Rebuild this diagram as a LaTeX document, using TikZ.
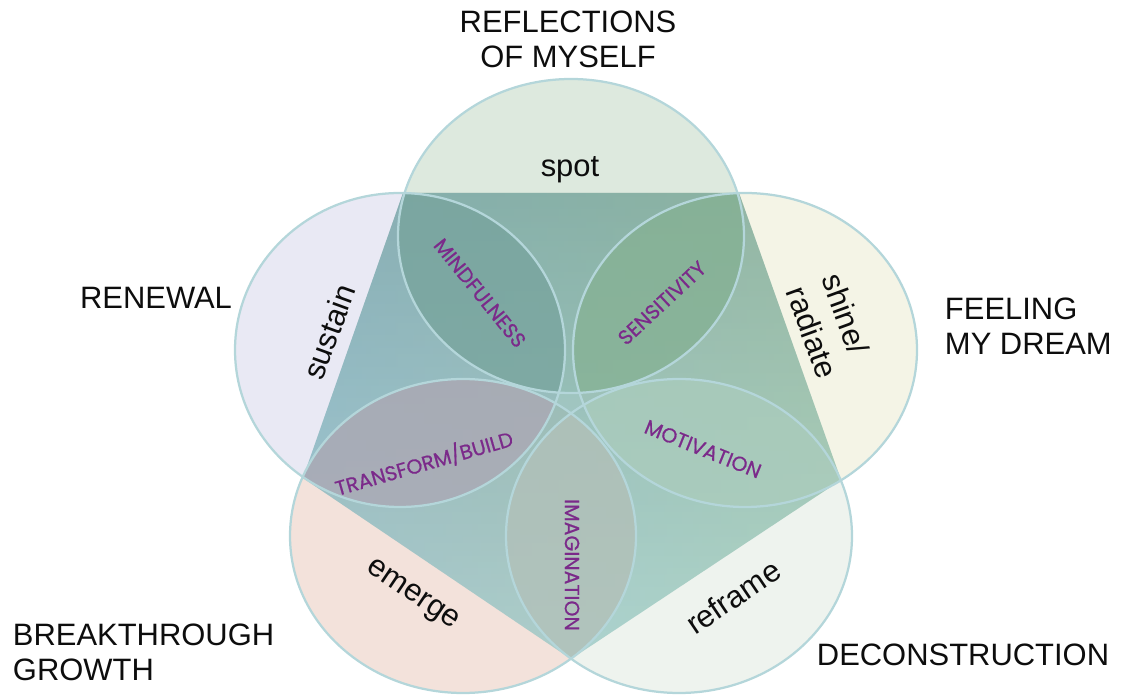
\documentclass[tikz,border=0pt]{standalone}
\usepackage{fontspec}
\setmainfont{Liberation Sans}
\newfontfamily\lensfont[FakeBold=0.6]{Poppins}
\usepackage{xcolor}
\definecolor{topfill}{HTML}{DDE9DE}
\definecolor{leftfill}{HTML}{E9E9F4}
\definecolor{rightfill}{HTML}{F4F4E6}
\definecolor{blfill}{HTML}{F3E2DB}
\definecolor{brfill}{HTML}{EEF3EE}
\definecolor{ringline}{HTML}{B4D6DA}
\definecolor{pentop}{HTML}{2F7A6F}
\definecolor{penmid}{HTML}{6CA5A4}
\definecolor{penbottom}{HTML}{79C4C3}
\definecolor{tintleft}{HTML}{A8C0E0}
\definecolor{tintright}{HTML}{C8D4A8}
\definecolor{lensTL}{HTML}{76A39B}
\definecolor{lensTR}{HTML}{83B092}
\definecolor{lensL}{HTML}{ACA7B4}
\definecolor{lensB}{HTML}{B3BFB7}
\definecolor{lensR}{HTML}{ABCCBC}
\definecolor{lenstext}{HTML}{7B2A8A}

\tikzset{
  ring/.style={draw=ringline, line width=1.6pt},
  lensfill/.style={fill opacity=0.75},
  outer/.style={font=\fontsize{22}{25}\selectfont, text=black!95},
  word/.style={font=\fontsize{22}{27}\selectfont, text=black!95},
  lens/.style={font=\lensfont\fontsize{14.5}{16}\selectfont, text=lenstext},
}

\begin{document}
\begin{tikzpicture}[x=0.025cm, y=0.025cm]

\useasboundingbox (0,0) rectangle (1122,696);

% Circles
\fill[topfill] (571,460) ellipse [x radius=173, y radius=157];
\fill[leftfill] (400,346) ellipse [x radius=165, y radius=157];
\fill[rightfill] (745,346) ellipse [x radius=172, y radius=157];
\fill[blfill] (463,160) ellipse [x radius=173, y radius=157];
\fill[brfill] (679,160) ellipse [x radius=173, y radius=157];

% Pentagon
\shade[top color=pentop, middle color=penmid, bottom color=penbottom, opacity=0.6]
  (403,503) -- (739,503) -- (841,216) -- (571,37) -- (303,218) -- cycle;
\shade[left color=tintleft, right color=tintright, opacity=0.3]
  (403,503) -- (739,503) -- (841,216) -- (571,37) -- (303,218) -- cycle;

% Lenses
\begin{scope}
  \clip (571,460) ellipse [x radius=173, y radius=157];
  \fill[lensfill, fill=lensTL] (400,346) ellipse [x radius=165, y radius=157];
  \fill[lensfill, fill=lensTR] (745,346) ellipse [x radius=172, y radius=157];
\end{scope}
\begin{scope}
  \clip (463,160) ellipse [x radius=173, y radius=157];
  \fill[lensfill, fill=lensL] (400,346) ellipse [x radius=165, y radius=157];
  \fill[lensfill, fill=lensB] (679,160) ellipse [x radius=173, y radius=157];
\end{scope}
\begin{scope}
  \clip (679,160) ellipse [x radius=173, y radius=157];
  \fill[lensfill, fill=lensR] (745,346) ellipse [x radius=172, y radius=157];
\end{scope}

% Outlines
\draw[ring] (571,460) ellipse [x radius=173, y radius=157];
\draw[ring] (400,346) ellipse [x radius=165, y radius=157];
\draw[ring] (745,346) ellipse [x radius=172, y radius=157];
\draw[ring] (463,160) ellipse [x radius=173, y radius=157];
\draw[ring] (679,160) ellipse [x radius=173, y radius=157];

% Outer labels
\node[outer, align=center] (reflect) at (568,657) {REFLECTIONS\\OF MYSELF};
\node[outer] (renewal) at (156,398) {RENEWAL};
\node[outer, align=left, anchor=west] (feeling) at (940,370) {FEELING\\MY DREAM};
\node[outer, align=left, anchor=west] (breakthrough) at (8,44) {BREAKTHROUGH\\GROWTH};
\node[outer] (deconstruct) at (963,41) {DECONSTRUCTION};

% Circle words
\node[word] (spot) at (570,526) {spot};
\node[word, rotate=70] (sustain) at (329,364) {sustain};
\node[word, rotate=-70, align=left] (shine) at (830,370) {shine/\\radiate};
\node[word, rotate=-34] (emerge) at (412,100) {emerge};
\node[word, rotate=34] (reframe) at (733,99) {reframe};

% Lens words
\node[lens, rotate=-51] (mindful) at (480,403) {MINDFULNESS};
\node[lens, rotate=43] (sensitive) at (662,393) {SENSITIVITY};
\node[lens, rotate=16] (transform) at (424,233) {TRANSFORM/BUILD};
\node[lens, rotate=-22] (motivate) at (703,247) {MOTIVATION};
\node[lens, rotate=-90] (imagine) at (572,131) {IMAGINATION};

\end{tikzpicture}
\end{document}
